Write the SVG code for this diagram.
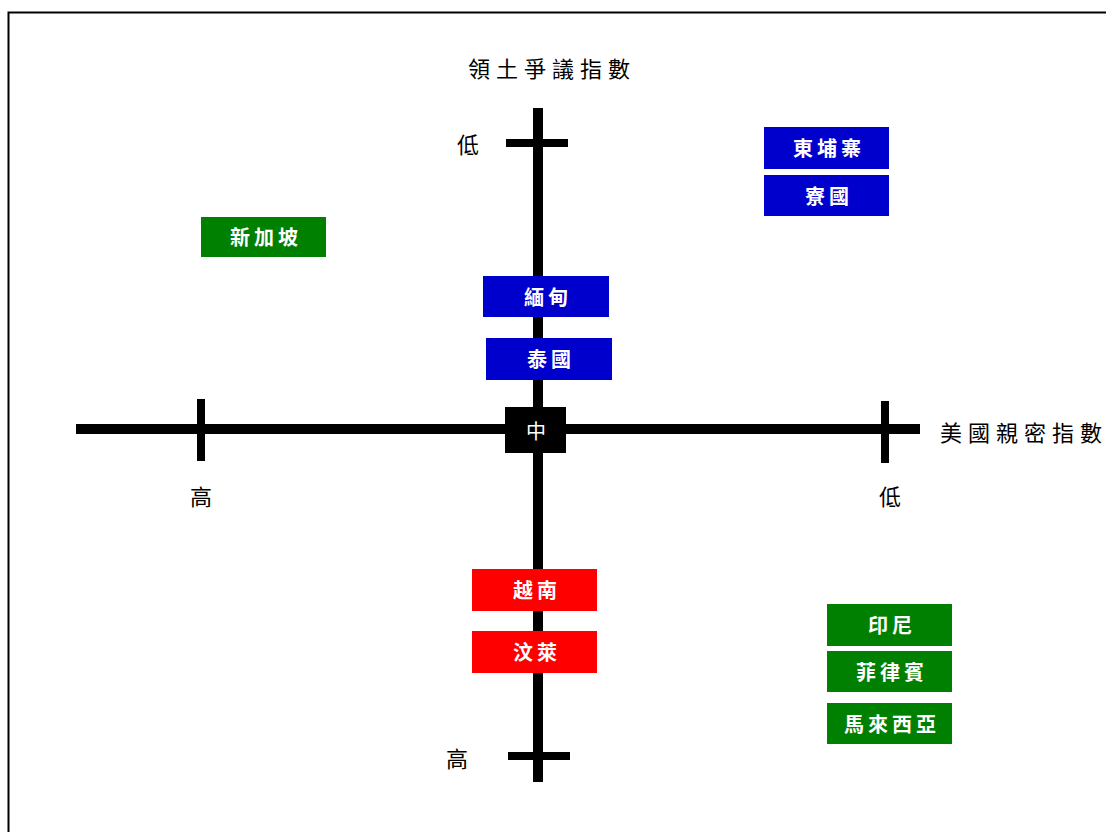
<svg xmlns="http://www.w3.org/2000/svg" width="1106" height="832" viewBox="0 0 1106 832">
<style>
.lbl{font-family:"Liberation Serif","Noto Sans CJK TC",serif;font-size:22px;fill:#000;letter-spacing:6px}
.one{font-family:"Liberation Serif","Noto Sans CJK TC",serif;font-size:22px;fill:#000;text-anchor:middle}
.bt{font-family:"Liberation Serif","Noto Sans CJK TC",serif;font-size:20px;font-weight:bold;fill:#fff;text-anchor:middle;dominant-baseline:central;letter-spacing:4px}
.blue{fill:#0000CC}
.green{fill:#008000}
.red{fill:#FF0000}
.ax{stroke:#000;fill:none}
</style>
<rect x="0" y="0" width="1106" height="832" fill="#fff"/>
<rect x="8.5" y="12.5" width="1110" height="840" fill="none" stroke="#000" stroke-width="2"/>
<g id="axes" class="ax">
<line x1="538" y1="108" x2="538" y2="782" stroke-width="10"/>
<line x1="76" y1="429" x2="920" y2="429" stroke-width="10"/>
<line x1="506" y1="143" x2="568" y2="143" stroke-width="8"/>
<line x1="508" y1="756" x2="570" y2="756" stroke-width="8"/>
<line x1="201" y1="399" x2="201" y2="461" stroke-width="8"/>
<line x1="885" y1="401" x2="885" y2="463" stroke-width="8"/>
</g>
<g id="labels">
<text class="lbl" x="552" y="77" text-anchor="middle">領土爭議指數</text>
<text class="lbl" x="940" y="441">美國親密指數</text>
<text class="one" x="468" y="153">低</text>
<text class="one" x="201" y="505">高</text>
<text class="one" x="890" y="505">低</text>
<text class="one" x="457" y="767">高</text>
</g>
<g id="center"><rect x="505" y="407" width="61" height="46" fill="#000"/><text class="bt" x="536" y="432" style="font-weight:normal;letter-spacing:0">中</text></g>
<g id="cambodia"><rect class="blue" x="764" y="127" width="125" height="42"/><text class="bt" x="829" y="149">東埔寨</text></g>
<g id="laos"><rect class="blue" x="764" y="175" width="125" height="41"/><text class="bt" x="829" y="197">寮國</text></g>
<g id="singapore"><rect class="green" x="201" y="217" width="125" height="40"/><text class="bt" x="266" y="238">新加坡</text></g>
<g id="myanmar"><rect class="blue" x="483" y="276" width="126" height="41"/><text class="bt" x="548" y="298">緬甸</text></g>
<g id="thailand"><rect class="blue" x="486" y="338" width="126" height="42"/><text class="bt" x="551" y="360">泰國</text></g>
<g id="vietnam"><rect class="red" x="472" y="569" width="125" height="42"/><text class="bt" x="537" y="591">越南</text></g>
<g id="brunei"><rect class="red" x="472" y="631" width="125" height="42"/><text class="bt" x="537" y="653">汶萊</text></g>
<g id="indonesia"><rect class="green" x="827" y="604" width="125" height="42"/><text class="bt" x="892" y="626">印尼</text></g>
<g id="philippines"><rect class="green" x="827" y="651" width="125" height="41"/><text class="bt" x="892" y="673">菲律賓</text></g>
<g id="malaysia"><rect class="green" x="827" y="703" width="125" height="41"/><text class="bt" x="892" y="725">馬來西亞</text></g>
</svg>
